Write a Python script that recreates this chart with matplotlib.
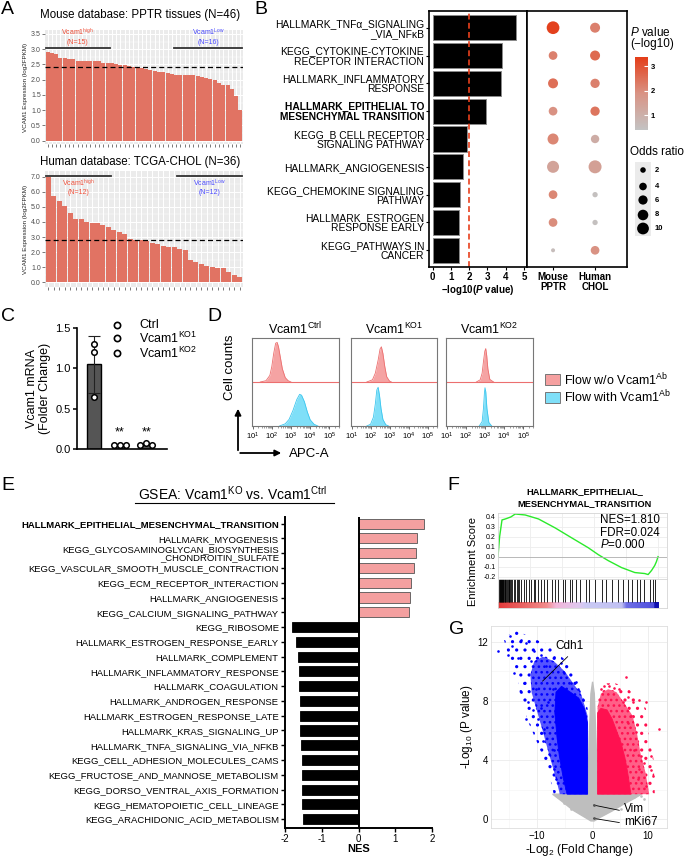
import numpy as np
import matplotlib
matplotlib.use("Agg")
import matplotlib.pyplot as plt
from matplotlib.colors import LinearSegmentedColormap
from matplotlib.patches import Polygon, Rectangle, FancyArrowPatch
from matplotlib.lines import Line2D

plt.rcParams['font.family'] = ['Liberation Sans', 'DejaVu Sans']
plt.rcParams['mathtext.fontset'] = 'custom'
plt.rcParams['mathtext.rm'] = 'Liberation Sans'
plt.rcParams['mathtext.it'] = 'Liberation Sans:italic'
plt.rcParams['mathtext.bf'] = 'Liberation Sans:bold'
plt.rcParams['mathtext.bfit'] = 'Liberation Sans:italic:bold'
plt.rcParams['hatch.linewidth'] = 1.1

# ---------------- data ----------------
# A: VCAM1 expression ranked
mouse_expr = [2.91, 2.87, 2.84, 2.72, 2.70, 2.68, 2.67, 2.61, 2.61, 2.61, 2.60, 2.60,
              2.60, 2.55, 2.55, 2.54, 2.51, 2.48, 2.47, 2.45, 2.43, 2.40, 2.37, 2.34,
              2.32, 2.27, 2.25, 2.24, 2.21, 2.19, 2.17, 2.17, 2.16, 2.16, 2.14, 2.12,
              2.09, 2.07, 2.02, 1.98, 1.89, 1.84, 1.83, 1.69, 1.46, 0.99]
human_expr = [6.98, 5.70, 5.37, 5.08, 4.59, 4.21, 4.20, 4.01, 3.94, 3.90, 3.78, 3.69,
              3.47, 3.31, 3.20, 2.86, 2.82, 2.78, 2.73, 2.64, 2.53, 2.44, 2.37, 2.35,
              2.19, 2.17, 1.50, 1.36, 1.22, 1.10, 1.01, 0.98, 0.95, 0.70, 0.52, 0.38]
mouse_cut = 2.42
human_cut = 2.78
mouse_groups = (15, 16)
human_groups = (12, 12)

# B: enrichment of shared pathways
b_terms = ["HALLMARK_TNFα_SIGNALING\n_VIA_NFκB",
           "KEGG_CYTOKINE-CYTOKINE\nRECEPTOR INTERACTION",
           "HALLMARK_INFLAMMATORY\nRESPONSE",
           "HALLMARK_EPITHELIAL TO\nMESENCHYMAL TRANSITION",
           "KEGG_B CELL RECEPTOR\nSIGNALING PATHWAY",
           "HALLMARK_ANGIOGENESIS",
           "KEGG_CHEMOKINE SIGNALING\nPATHWAY",
           "HALLMARK_ESTROGEN\nRESPONSE EARLY",
           "KEGG_PATHWAYS IN\nCANCER"]
b_logp = [4.54, 3.78, 3.72, 2.92, 1.90, 1.64, 1.50, 1.44, 1.42]
b_cohorts = ["Mouse\nPPTR", "Human\nCHOL"]
mouse_p = [3.3, 2.2, 2.5, 1.9, 2.1, 1.4, 2.1, 2.0, 0.6]
human_p = [2.2, 2.6, 2.2, 2.4, 1.1, 1.5, 0.5, 0.5, 1.9]
mouse_or = [11.7, 5.3, 7.1, 5.3, 8.7, 10.4, 5.3, 5.3, 0.9]
human_or = [7.1, 7.1, 6.1, 6.1, 4.9, 12.2, 1.8, 1.8, 5.3]
or_legend = [2, 4, 6, 8, 10]

# C: qPCR
c_groups = ["Ctrl", "Vcam1$^{\\mathrm{KO1}}$", "Vcam1$^{\\mathrm{KO2}}$"]
c_mean = [1.05, 0.05, 0.06]
c_err = [0.35, 0.0, 0.0]
c_points = [[1.30, 1.20, 0.65], [0.05, 0.05, 0.05], [0.05, 0.08, 0.05]]

# D: flow histograms (x = log10 APC-A, y = relative counts)
d_titles = ["Vcam1$^{\\mathrm{Ctrl}}$", "Vcam1$^{\\mathrm{KO1}}$", "Vcam1$^{\\mathrm{KO2}}$"]
red_x = [[1.4, 1.7, 1.9, 2.0, 2.1, 2.2, 2.28, 2.35, 2.45, 2.55, 2.7, 2.85, 3.0],
         [1.8, 2.1, 2.25, 2.4, 2.5, 2.57, 2.65, 2.75, 2.85, 3.0, 3.1],
         [2.55, 2.75, 2.85, 2.93, 2.99, 3.04, 3.09, 3.15, 3.25, 3.45]]
red_y = [[0, 0.03, 0.15, 0.35, 0.65, 0.88, 0.9, 0.8, 0.55, 0.3, 0.1, 0.03, 0],
         [0, 0.05, 0.2, 0.5, 0.75, 0.8, 0.65, 0.35, 0.12, 0.02, 0],
         [0, 0.05, 0.2, 0.5, 0.7, 0.76, 0.6, 0.3, 0.06, 0]]
cyan_x = [[2.4, 2.7, 2.9, 3.1, 3.3, 3.45, 3.55, 3.7, 3.85, 4.0, 4.2, 4.4],
          [1.8, 2.0, 2.15, 2.25, 2.33, 2.4, 2.47, 2.55, 2.65, 2.8, 2.95],
          [2.7, 2.85, 2.92, 2.97, 3.0, 3.04, 3.1, 3.2, 3.35]]
cyan_y = [[0, 0.05, 0.15, 0.35, 0.6, 0.72, 0.7, 0.55, 0.32, 0.14, 0.04, 0],
          [0, 0.04, 0.2, 0.5, 0.82, 0.88, 0.7, 0.4, 0.15, 0.03, 0],
          [0, 0.1, 0.4, 0.75, 0.87, 0.78, 0.4, 0.08, 0]]

# E: GSEA NES
e_terms = ["HALLMARK_EPITHELIAL_MESENCHYMAL_TRANSITION", "HALLMARK_MYOGENESIS",
           "KEGG_GLYCOSAMINOGLYCAN_BIOSYNTHESIS\n_CHONDROITIN_SULFATE",
           "KEGG_VASCULAR_SMOOTH_MUSCLE_CONTRACTION", "KEGG_ECM_RECEPTOR_INTERACTION",
           "HALLMARK_ANGIOGENESIS", "KEGG_CALCIUM_SIGNALING_PATHWAY", "KEGG_RIBOSOME",
           "HALLMARK_ESTROGEN_RESPONSE_EARLY", "HALLMARK_COMPLEMENT",
           "HALLMARK_INFLAMMATORY_RESPONSE", "HALLMARK_COAGULATION",
           "HALLMARK_ANDROGEN_RESPONSE", "HALLMARK_ESTROGEN_RESPONSE_LATE",
           "HALLMARK_KRAS_SIGNALING_UP", "HALLMARK_TNFA_SIGNALING_VIA_NFKB",
           "KEGG_CELL_ADHESION_MOLECULES_CAMS", "KEGG_FRUCTOSE_AND_MANNOSE_METABOLISM",
           "KEGG_DORSO_VENTRAL_AXIS_FORMATION", "KEGG_HEMATOPOIETIC_CELL_LINEAGE",
           "KEGG_ARACHIDONIC_ACID_METABOLISM"]
e_nes = [1.79, 1.58, 1.56, 1.50, 1.44, 1.40, 1.38, -1.81, -1.70, -1.65, -1.62, -1.62,
         -1.60, -1.59, -1.59, -1.57, -1.55, -1.55, -1.54, -1.53, -1.51]

# F: running enrichment score
es_x = [0, 0.01, 0.025, 0.046, 0.08, 0.108, 0.17, 0.253, 0.357, 0.46, 0.564, 0.627,
        0.689, 0.772, 0.855, 0.917, 0.938, 0.959, 0.979, 0.99, 1.0]
es_y = [0, 0.2, 0.37, 0.38, 0.40, 0.43, 0.42, 0.38, 0.29, 0.19, 0.09, 0.02,
        -0.04, -0.11, -0.16, -0.17, -0.18, -0.14, -0.09, -0.05, 0.0]
hits = [0.004, 0.010, 0.014, 0.017, 0.021, 0.023, 0.027, 0.029, 0.033, 0.035, 0.041,
        0.046, 0.050, 0.056, 0.062, 0.066, 0.071, 0.077, 0.083, 0.087, 0.098, 0.108,
        0.118, 0.125, 0.133, 0.145, 0.160, 0.174, 0.191, 0.207, 0.224, 0.232, 0.253,
        0.270, 0.286, 0.305, 0.336, 0.357, 0.378, 0.405, 0.419, 0.450, 0.465, 0.485,
        0.512, 0.548, 0.568, 0.606, 0.647, 0.672, 0.710, 0.751, 0.782, 0.813, 0.838,
        0.871, 0.886, 0.913, 0.948, 0.969, 0.979]
f_stats = ["NES=1.810", "FDR=0.024", "$\\mathit{P}$=0.000"]

# G: volcano (dense areas as outlines, sparse points individually)
gray_base = [(-7.2, 1.69), (-5.5, 1.2), (-3.5, 0.6), (-1.5, 0.15), (-0.3, -0.12), (0.3, -0.12),
             (1.5, 0.15), (3.5, 0.55), (5.5, 1.0), (7.5, 1.4), (8.8, 1.69)]
gray_spike = [(-0.9, 1.69), (-0.6, 5.5), (-0.3, 8.5), (0.0, 9.3), (0.3, 8.5), (0.6, 5.5), (0.9, 1.69)]
blue_outer = [(-0.9, 1.69), (-0.9, 7.5), (-2.5, 9.3), (-5.0, 10.8), (-8.0, 11.8), (-11.0, 12.3),
              (-14.0, 12.8), (-16.0, 12.2), (-15.0, 10.8), (-13.5, 9.5), (-13.0, 8.2),
              (-11.5, 6.5), (-10.0, 5.2), (-8.5, 3.8), (-7.5, 2.5), (-7.0, 1.69)]
blue_mid = [(-0.9, 1.69), (-0.9, 7.0), (-2.0, 8.4), (-3.5, 9.2), (-5.0, 10.0), (-7.0, 10.7),
            (-9.0, 11.0), (-10.5, 10.7), (-11.2, 9.8), (-11.0, 8.6), (-10.0, 7.3), (-9.0, 6.0),
            (-8.0, 4.6), (-7.0, 3.3), (-6.3, 2.3), (-5.9, 1.69)]
blue_core = [(-0.9, 1.69), (-0.9, 6.5), (-1.5, 7.5), (-2.5, 8.2), (-4.0, 8.6), (-5.6, 9.0),
             (-6.6, 8.6), (-6.8, 7.2), (-6.4, 5.5), (-6.0, 4.3), (-5.3, 2.8), (-4.6, 1.69)]
red_outer = [(0.9, 1.69), (0.9, 8.2), (2.0, 9.2), (4.0, 9.2), (6.0, 9.0), (8.0, 8.2), (9.6, 7.5),
             (10.0, 6.0), (11.0, 4.0), (11.2, 1.69)]
red_mid = [(0.9, 1.69), (0.9, 7.6), (1.5, 8.5), (2.8, 8.8), (4.3, 8.6), (5.8, 7.8), (7.2, 7.0),
           (8.0, 5.8), (8.6, 4.5), (9.5, 3.2), (10.2, 1.69)]
red_core = [(0.9, 1.69), (0.9, 7.2), (1.5, 7.5), (2.6, 7.4), (3.5, 6.8), (4.3, 6.0), (5.1, 5.2),
            (5.8, 4.2), (6.3, 3.2), (6.9, 1.69)]
blue_pts = [(-14.8, 12.4), (-17.1, 11.4), (-12.9, 12.1), (-12.0, 11.9), (-14.6, 11.7),
            (-13.5, 10.9), (-14.1, 9.9), (-10.5, 11.4), (-9.3, 11.1), (-11.1, 10.7),
            (-12.9, 8.6), (-11.7, 7.9), (-9.9, 6.8), (-9.0, 5.3), (-7.8, 4.4), (-6.9, 3.4),
            (-6.6, 2.7), (-7.2, 8.8), (-5.1, 9.9), (-3.0, 9.3), (-2.7, 8.8), (-5.7, 10.6),
            (-8.4, 10.4), (-12.3, 9.2), (-10.8, 7.4), (-8.7, 6.1), (-9.3, 7.5), (-1.5, 7.2),
            (-1.8, 8.1), (-3.9, 9.2), (-6.9, 11.0), (-12.0, 6.8), (-15.3, 11.1), (-8.1, 7.9),
            (-10.2, 8.8), (-6.0, 5.4), (-6.9, 4.7), (-5.1, 3.8)]
red_pts = [(2.1, 9.0), (3.0, 9.0), (3.9, 8.9), (4.8, 8.8), (6.0, 9.6), (6.3, 8.3), (8.4, 8.1),
           (9.6, 7.9), (12.0, 6.1), (10.5, 4.3), (10.8, 2.9), (10.5, 3.3), (8.7, 4.3),
           (9.3, 3.8), (7.8, 5.9), (6.9, 7.0), (5.4, 7.9), (7.5, 4.7), (8.4, 3.4), (9.6, 2.25),
           (6.3, 6.5), (8.1, 2.7), (7.2, 7.9), (1.5, 8.8)]
gray_pts = [(-6.3, 1.6), (-5.1, 1.1), (7.5, 1.5), (9.3, 1.35), (8.7, 1.6), (-3.9, 0.7), (5.1, 0.7)]
g_genes = {"Cdh1": (-9.0, 9.35), "Vim": (0.2, 0.95), "mKi67": (0.2, 0.05)}

# ---------------- figure ----------------
W, H = 685, 858
fig = plt.figure(figsize=(W / 100, H / 100), dpi=100)


def axpx(l, t, r, b):
    return fig.add_axes([l / W, 1 - b / H, (r - l) / W, (b - t) / H])


def ftext(x, y, s, **kw):
    return fig.text(x / W, 1 - y / H, s, **kw)


for lab, (lx, ly) in zip("ABCDEFG", [(1, 1), (254, 1), (1, 308), (207, 308),
                                      (1, 477), (447, 477), (449, 621)]):
    ftext(lx, ly, lab, fontsize=14, va='top', ha='left')


# ---- A ----
def expr_panel(box, vals, cut, groups, ylim, major, minor, line_y, txt_y, txt_va):
    ax = axpx(*box)
    n = len(vals)
    xs = np.arange(n)
    ax.set_facecolor('#EBEBEB')
    ax.set_axisbelow(True)
    ax.bar(xs, vals, width=0.92, color='#E17363', zorder=2)
    ax.axhline(cut, color='black', lw=0.9, ls=(0, (4, 2.5)), zorder=3)
    ax.set_xlim(-0.6, n - 0.4)
    ax.set_ylim(*ylim)
    ax.set_xticks(xs)
    ax.set_xticklabels([])
    ax.set_yticks(np.arange(0, ylim[1], major))
    ax.set_yticks(np.arange(minor, ylim[1], major), minor=True)
    ax.yaxis.set_major_formatter(matplotlib.ticker.FormatStrFormatter('%.1f'))
    ax.grid(which='major', color='white', lw=0.7)
    ax.grid(which='minor', axis='y', color='white', lw=0.35)
    for s in ax.spines.values():
        s.set_visible(False)
    ax.tick_params(which='major', length=2, color='#444444', width=0.5,
                   labelsize=5, labelcolor='#4D4D4D', pad=1)
    ax.tick_params(which='minor', length=0)
    ax.set_ylabel('VCAM1 Expression (log2FPKM)', fontsize=4.5, labelpad=2, color='#222222')
    hi, lo = groups
    ax.plot([-0.45, hi - 0.55], [line_y] * 2, color='#333333', lw=1.3, zorder=4)
    ax.plot([n - lo - 0.45, n - 0.55], [line_y] * 2, color='#333333', lw=1.3, zorder=4)
    ax.text((hi - 1) / 2, txt_y, 'Vcam1$^{\\mathrm{high}}$\n(N=%d)' % hi, color='#F0503A',
            fontsize=5, ha='center', va=txt_va, zorder=5, linespacing=1.1)
    ax.text(n - 1 - (lo - 1) / 2, txt_y, 'Vcam1$^{\\mathrm{Low}}$\n(N=%d)' % lo, color='#4B4BFF',
            fontsize=5, ha='center', va=txt_va, zorder=5, linespacing=1.1)
    return ax


expr_panel((45, 30, 243, 144), mouse_expr, mouse_cut, mouse_groups, (-0.11, 3.63),
           0.5, 0.25, 3.05, 3.12, 'bottom')
ftext(140, 15, 'Mouse database: PPTR tissues (N=46)', fontsize=8.3, ha='center', va='center')
expr_panel((45, 171, 243, 287), human_expr, human_cut, human_groups, (-0.3, 7.37),
           1.0, 0.5, 7.05, 6.95, 'top')
ftext(140, 162, 'Human database: TCGA-CHOL (N=36)', fontsize=8.3, ha='center', va='center')

# ---- B ----
rows = np.arange(len(b_terms))
axb = axpx(429, 11, 527, 267)
axb.barh(rows, b_logp, height=0.9, color='black', edgecolor='#8A8A8A', lw=0.7)
axb.axvline(2, color='#E8401C', ls=(0, (3.5, 2)), lw=1.2)
axb.set_xlim(-0.2, 5.17)
axb.set_ylim(8.6, -0.6)
axb.set_yticks(rows)
axb.set_yticklabels(b_terms, fontsize=7.4, linespacing=1.0)
axb.get_yticklabels()[3].set_fontweight('bold')
axb.set_xticks(range(6))
axb.set_xticklabels([str(i) for i in range(6)], fontsize=7, fontweight='bold')
axb.set_xlabel('−log10($\\mathbfit{P}$ value)', fontsize=7, fontweight='bold', labelpad=1)
axb.tick_params(length=2, width=0.8, pad=1.5)
for s in axb.spines.values():
    s.set_linewidth(1.2)

pcmap = LinearSegmentedColormap.from_list('pv', ['#C3C3C3', '#D99384', '#E43D18'])
axd = axpx(527, 11, 627, 267)
for j, (pv, orr) in enumerate([(mouse_p, mouse_or), (human_p, human_or)]):
    sc = axd.scatter(np.full(len(pv), j + 1), rows, s=2 + 7 * np.array(orr), c=pv,
                     cmap=pcmap, vmin=0.4, vmax=3.37, lw=0)
axd.set_xlim(0.38, 2.76)
axd.set_ylim(8.6, -0.6)
axd.set_yticks([])
axd.set_xticks([1, 2])
axd.set_xticklabels(b_cohorts, fontsize=7, fontweight='bold', linespacing=1.0)
axd.tick_params(length=2, width=0.8, pad=1.5)
for s in axd.spines.values():
    s.set_linewidth(1.2)

cax = axpx(635, 57, 648, 130)
cb = fig.colorbar(sc, cax=cax, ticks=[1, 2, 3])
cb.outline.set_visible(False)
cax.tick_params(color='white', direction='in', length=3, width=0.8, labelsize=5.5, pad=2)
for t in cax.get_yticklabels():
    t.set_fontweight('bold')
ftext(630, 32, '$\\mathit{P}$ value', fontsize=8.5, va='center')
ftext(630, 44, '(−log10)', fontsize=8.5, va='center')
ftext(630, 152, 'Odds ratio', fontsize=8.5, va='center')
axo = axpx(635, 162, 651, 236)
axo.set_facecolor('#EBEBEB')
axo.set_xlim(0, 1)
axo.set_ylim(236, 162)
leg_y = [170, 186.5, 200, 215, 228.5]
axo.scatter([0.5] * len(or_legend), leg_y, s=2 + 7 * np.array(or_legend), color='black', lw=0)
axo.set_xticks([])
axo.set_yticks([])
for s in axo.spines.values():
    s.set_visible(False)
for v, yy in zip(or_legend, leg_y):
    ftext(655, yy, str(v), fontsize=5.5, fontweight='bold', va='center')

# ---- C ----
axc = axpx(77, 328, 167, 449)
xc = np.arange(len(c_groups))
axc.bar(xc, c_mean, width=0.55, color='#555555', edgecolor='black', lw=1)
axc.errorbar(xc[0], c_mean[0], yerr=c_err[0], color='#222222', capsize=4, lw=0.8, capthick=0.8)
jit = [[0.0, 0.0, 0.0], [-0.23, 0.0, 0.23], [-0.23, 0.0, 0.23]]
for i, pts in enumerate(c_points):
    axc.scatter(xc[i] + np.array(jit[i]), pts, s=16, facecolor='white', edgecolor='black',
                lw=1.1, zorder=4)
for i in (1, 2):
    axc.text(xc[i], 0.13, '**', fontsize=9, ha='center', va='bottom')
axc.set_xlim(-0.65, 2.8)
axc.set_ylim(0, 1.5)
axc.set_yticks([0, 0.5, 1.0, 1.5])
axc.set_yticklabels(['0.0', '0.5', '1.0', '1.5'], fontsize=8)
axc.set_xticks([])
axc.spines[['top', 'right']].set_visible(False)
axc.spines['left'].set_linewidth(1.2)
axc.spines['bottom'].set_linewidth(1.2)
axc.tick_params(length=3, width=1.1, pad=1.5)
axc.set_ylabel('Vcam1 mRNA\n(Folder Change)', fontsize=9, labelpad=3, linespacing=1.1)
for k, (lab, ly) in enumerate(zip(c_groups, [325, 338, 353])):
    fig.add_artist(Line2D([117 / W], [1 - ly / H], marker='o', ms=4.5, mfc='white',
                          mec='black', mew=1.2, ls=''))
    ftext(139, ly, lab, fontsize=9, va='center')

# ---- D ----
d_boxes = [(252, 338, 339, 426), (351, 338, 437, 426), (446, 338, 533, 426)]
minor_pos = np.log10(np.outer(10.0 ** np.arange(1, 6), np.arange(2, 10)).ravel())
for k in range(3):
    ax = axpx(*d_boxes[k])
    ry = 1 + np.array(red_y[k])
    ax.fill_between(red_x[k], 1, ry, color='#F5A3A3', lw=0)
    ax.plot(red_x[k], ry, color='#EC6F6F', lw=0.6)
    ax.axhline(1, color='#EC6F6F', lw=0.8)
    ax.fill_between(cyan_x[k], 0, cyan_y[k], color='#7FDFF8', lw=0)
    ax.plot(cyan_x[k], cyan_y[k], color='#3CC6EE', lw=0.6)
    ax.set_xlim(0.97, 5.5)
    ax.set_ylim(0, 2)
    ax.set_yticks([])
    ax.set_xticks([1, 2, 3, 4, 5])
    ax.set_xticklabels(['$10^{%d}$' % i for i in range(1, 6)], fontsize=5.5)
    ax.set_xticks(minor_pos[minor_pos < 5.5], minor=True)
    ax.tick_params(which='major', length=2.5, width=0.6, pad=1, color='#555555')
    ax.tick_params(which='minor', length=1.3, width=0.4, color='#555555')
    for s in ax.spines.values():
        s.set_color('#777777')
        s.set_linewidth(0.8)
    ax.set_title(d_titles[k], fontsize=9, pad=3)
fig.add_artist(FancyArrowPatch((238 / W, 1 - 453 / H), (238 / W, 1 - 406 / H),
                               transform=fig.transFigure, arrowstyle='-|>',
                               mutation_scale=9, lw=1.3, color='black'))
fig.add_artist(FancyArrowPatch((237.4 / W, 1 - 453 / H), (284 / W, 1 - 453 / H),
                               transform=fig.transFigure, arrowstyle='-|>',
                               mutation_scale=9, lw=1.3, color='black'))
ftext(230, 367, 'Cell counts', fontsize=9.5, rotation=90, ha='center', va='center')
ftext(289, 454, 'APC-A', fontsize=9.5, ha='left', va='center')
for (yy, fc, lab) in [(379.5, '#F5A0A0', 'Flow w/o Vcam1$^{\\mathrm{Ab}}$'),
                      (397, '#7FDFF8', 'Flow with Vcam1$^{\\mathrm{Ab}}$')]:
    fig.add_artist(Rectangle((545 / W, 1 - (yy + 5.5) / H), 15 / W, 11 / H, facecolor=fc,
                             edgecolor='#777777', lw=0.7, transform=fig.transFigure))
    ftext(564, yy, lab, fontsize=9, va='center')

# ---- E ----
axe = axpx(285, 517, 432, 828)
er = np.arange(len(e_terms))
ecol = ['#F4A0A0' if v > 0 else 'black' for v in e_nes]
eedge = ['#555555' if v > 0 else 'black' for v in e_nes]
axe.barh(er, e_nes, height=0.68, color=ecol, edgecolor=eedge, lw=0.6)
axe.axvline(0, color='black', lw=1.4)
axe.set_xlim(-2, 2)
axe.set_ylim(20.6, -0.45)
axe.set_yticks(er)
axe.set_yticklabels(e_terms, fontsize=6.8, linespacing=0.92)
axe.get_yticklabels()[0].set_fontweight('bold')
axe.set_xticks([-2, -1, 0, 1, 2])
axe.set_xticklabels(['-2', '-1', '0', '1', '2'], fontsize=7)
axe.set_xlabel('NES', fontsize=8, fontweight='bold', labelpad=0)
axe.spines[['top', 'right']].set_visible(False)
axe.spines['left'].set_linewidth(1.4)
axe.spines['bottom'].set_linewidth(1.4)
axe.tick_params(length=3, width=1.0, pad=1.5)
ftext(233, 494, 'GSEA: Vcam1$^{\\mathrm{KO}}$ vs. Vcam1$^{\\mathrm{Ctrl}}$', fontsize=10,
      ha='center', va='center')
fig.add_artist(Line2D([135 / W, 334 / W], [1 - 503 / H] * 2, color='black', lw=0.8))

# ---- F ----
ftext(585, 492, 'HALLMARK_EPITHELIAL_', fontsize=6.7, fontweight='bold', ha='center', va='center')
ftext(585, 503.5, 'MESENCHYMAL_TRANSITION', fontsize=6.7, fontweight='bold', ha='center',
      va='center')
axf = axpx(498, 513, 667, 579)
axf.plot(es_x, es_y, color='#2BEA2B', lw=1.0)
axf.axhline(0, color='#B0B0B0', lw=0.6)
axf.set_xlim(0, 1.056)
axf.set_ylim(-0.225, 0.44)
axf.set_yticks([-0.2, -0.1, 0.0, 0.1, 0.2, 0.3, 0.4])
axf.set_yticklabels(['%.1f' % v for v in [-0.2, -0.1, 0.0, 0.1, 0.2, 0.3, 0.4]], fontsize=5)
axf.set_xticks([0.2, 0.4, 0.6, 0.8, 1.0])
axf.set_xticklabels([])
axf.grid(color='#EDEDED', lw=0.6)
axf.tick_params(length=0, pad=1.5)
for s in axf.spines.values():
    s.set_color('#D5D5D5')
    s.set_linewidth(0.6)
for yy, s in zip([520, 532.5, 545], f_stats):
    ftext(600, yy, s, fontsize=8.4, va='center')
axh = axpx(498, 579, 667, 608)
axh.vlines(hits, 0.2, 1.0, color='black', lw=0.6)
rank_cmap = LinearSegmentedColormap.from_list(
    'rk', [(0, '#E23A3A'), (0.3, '#F28C8C'), (0.36, '#F2B6D9'), (0.5, '#E0C8EE'),
           (0.55, '#CACAF4'), (0.77, '#C0C0F2'), (0.8, '#6F6FE6'), (0.97, '#5050DD'),
           (0.975, '#1010B0'), (1, '#1010B0')])
axh.imshow(np.linspace(0, 1, 256)[None, :], extent=[0, 1, 0, 0.19], aspect='auto',
           cmap=rank_cmap)
axh.set_xlim(0, 1.056)
axh.set_ylim(0, 1)
axh.set_xticks([])
axh.set_yticks([])
for s in axh.spines.values():
    s.set_color('#D5D5D5')
    s.set_linewidth(0.6)
ftext(473, 562, 'Enrichment Score', fontsize=8, rotation=90, ha='center', va='center')

# ---- G ----
axg = axpx(491, 626, 667, 828)
axg.add_patch(Polygon(gray_base, closed=True, facecolor='#BEBEBE', edgecolor='#BEBEBE', lw=1))
axg.add_patch(Polygon(gray_spike, closed=True, facecolor='#BEBEBE', edgecolor='#BEBEBE', lw=1))
# sparse / medium / dense zones: stippled, stippled on tint, solid
for poly, col, face, htc in [(blue_outer, '#0000FF', '#FFFFFF00', '..'),
                             (red_outer, '#FF1150', '#FFFFFF00', '..'),
                             (blue_mid, '#0000FF', '#5555FF', '...'),
                             (red_mid, '#FF1150', '#FF6088', '...')]:
    axg.add_patch(Polygon(poly, closed=True, facecolor=face, edgecolor=col, hatch=htc, lw=0))
axg.add_patch(Polygon(blue_core, closed=True, facecolor='#0000FF', edgecolor='#0000FF', lw=0.6))
axg.add_patch(Polygon(red_core, closed=True, facecolor='#FF1150', edgecolor='#FF1150', lw=0.6))
axg.scatter(*zip(*blue_pts), s=3.5, color='#0000FF', lw=0)
axg.scatter(*zip(*red_pts), s=3.5, color='#FF1150', lw=0)
axg.scatter(*zip(*gray_pts), s=3.5, color='#BEBEBE', lw=0)
axg.set_xlim(-18.3, 13.4)
axg.set_ylim(-0.6, 13.08)
axg.set_xticks([-10, 0, 10])
axg.set_yticks([0, 4, 8, 12])
axg.set_xticks([-15, -5, 5], minor=True)
axg.set_yticks([2, 6, 10], minor=True)
axg.tick_params(labelsize=7, length=0, pad=2)
axg.tick_params(which='minor', length=0)
axg.grid(which='major', color='#EBEBEB', lw=0.6)
axg.grid(which='minor', color='#F4F4F4', lw=0.4)
axg.set_axisbelow(True)
for s in axg.spines.values():
    s.set_color('#DDDDDD')
    s.set_linewidth(0.6)
axg.set_xlabel('-Log$_{2}$ (Fold Change)', fontsize=8.5, labelpad=1)
axg.set_ylabel('-Log$_{10}$ (P value)', fontsize=8.5, labelpad=2)
gx, gy = g_genes["Cdh1"]
axg.plot([gx, -4.5], [gy, 11.0], color='black', lw=0.6)
axg.text(-6.7, 11.7, 'Cdh1', fontsize=8.5, va='center')
for name, ty in [("Vim", 0.72), ("mKi67", -0.18)]:
    gx, gy = g_genes[name]
    axg.scatter([gx], [gy], s=4, color='#555555', lw=0, zorder=5)
    axg.plot([gx, 4.8], [gy, ty - 0.12 if name == "Vim" else ty - 0.05], color='black', lw=0.6)
    axg.text(5.6, ty, name, fontsize=8.5, va='center')

fig.savefig('out.png', dpi=100)
